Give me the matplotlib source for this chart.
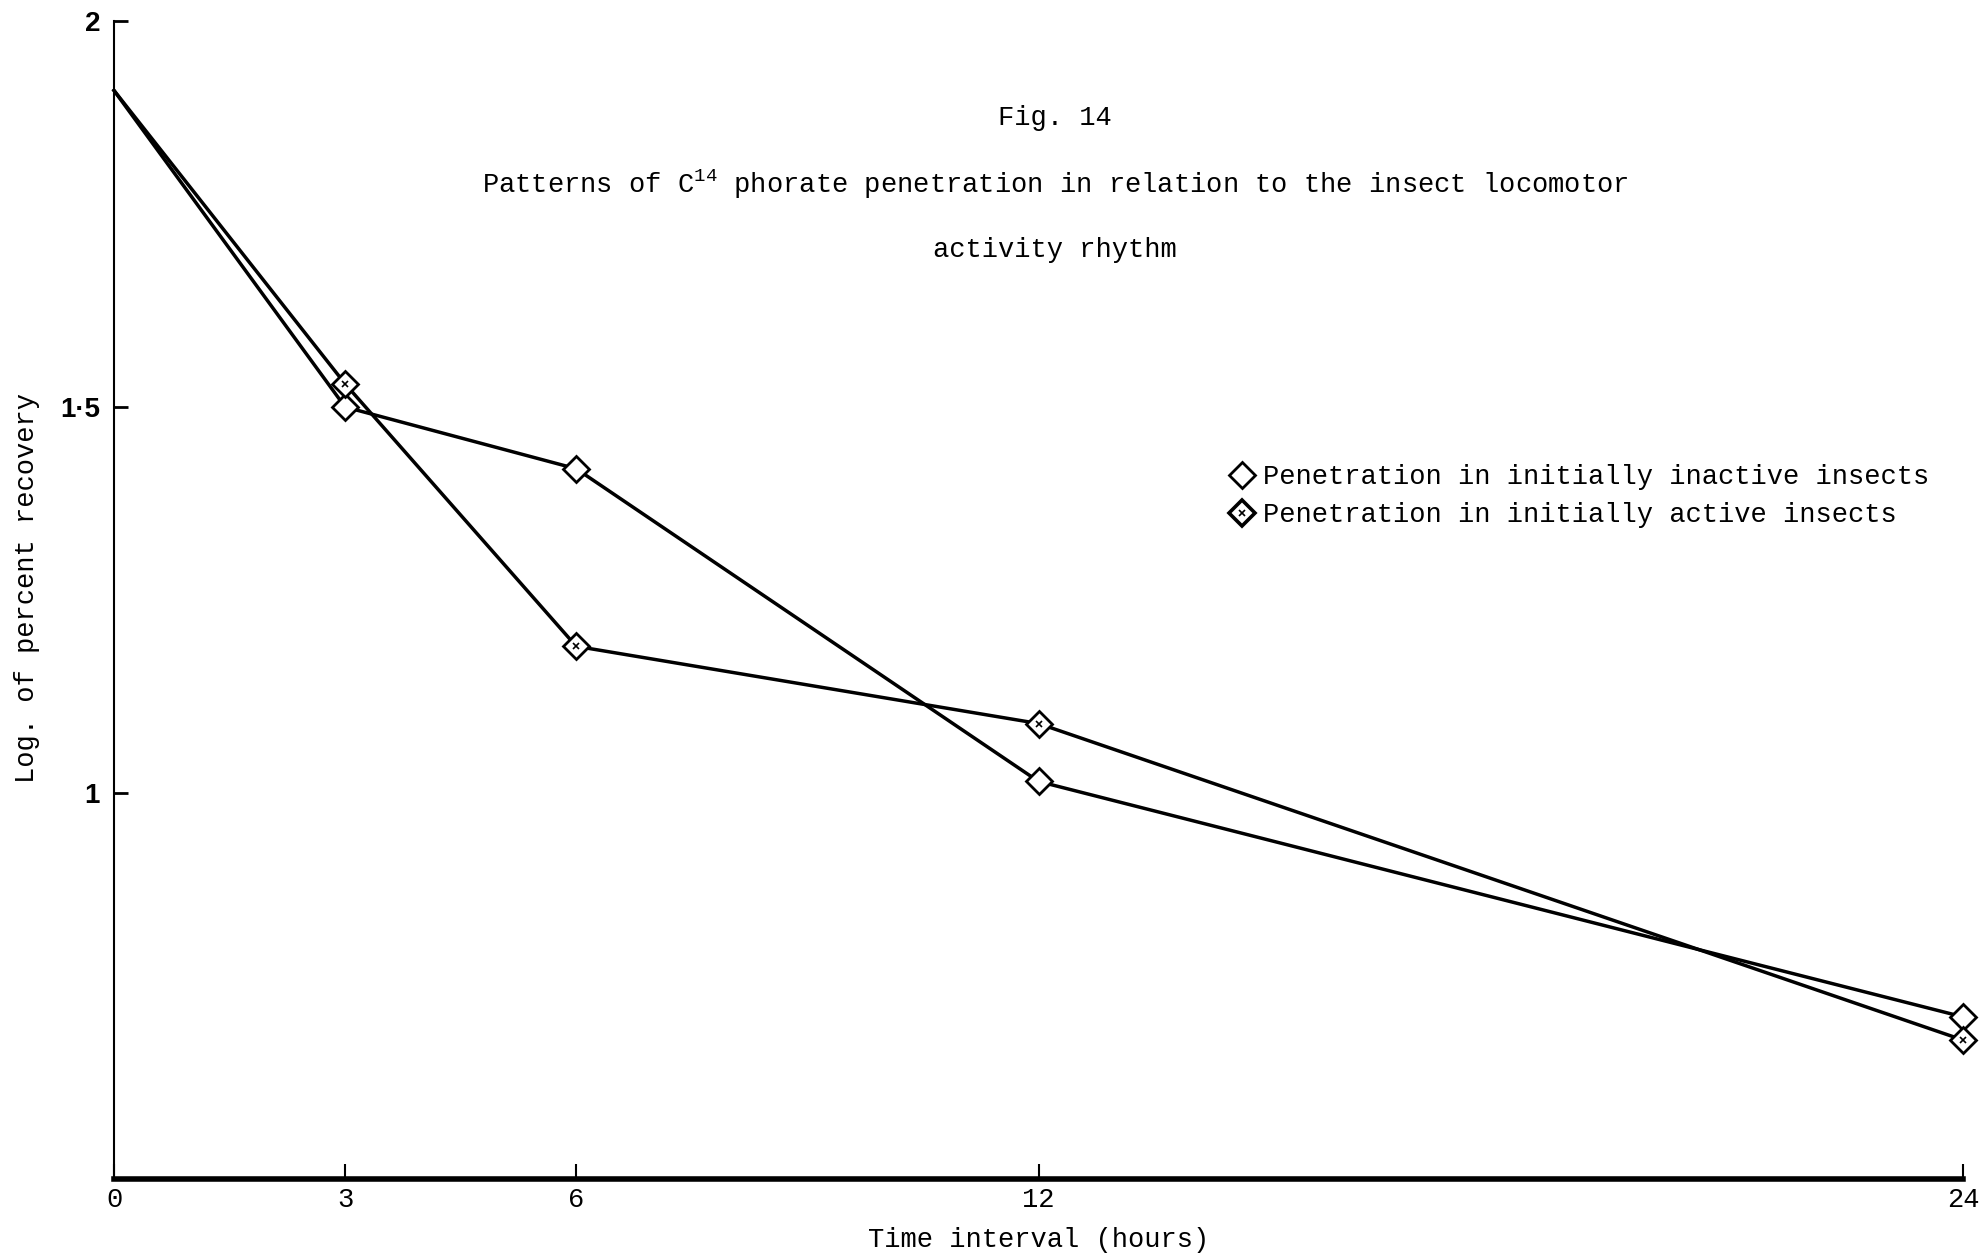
import matplotlib.pyplot as plt
from matplotlib.lines import Line2D

plt.rcParams['mathtext.fontset'] = 'custom'
plt.rcParams['mathtext.rm'] = 'Liberation Mono'
plt.rcParams['mathtext.it'] = 'Liberation Mono'

# hours after treatment
hours = [0, 3, 6, 12, 24]
# log of percent recovery
inactive = [1.91, 1.50, 1.42, 1.015, 0.71]
active = [1.91, 1.53, 1.19, 1.09, 0.68]

x_ticks = [0, 3, 6, 12, 24]
y_ticks = [1, 1.5, 2]
y_tick_labels = ['1', '1\u00b75', '2']

W, H = 1988, 1258
mono = 'Liberation Mono'
fs = 19.5

fig = plt.figure(figsize=(W / 100, H / 100), dpi=100)
ax = fig.add_axes([114 / W, 1 - 1179 / H, (1963 - 114) / W, (1179 - 21) / H])

diamond = dict(linestyle='none', marker='D', ms=13, mfc='white',
               mec='black', mew=2, zorder=3, clip_on=False)

# lines start at the common zero point, markers only from 3 h on
ax.plot(hours, inactive, color='black', lw=2.5, zorder=2, clip_on=False)
ax.plot(hours, active, color='black', lw=2.5, zorder=2, clip_on=False)
ax.plot(hours[1:], inactive[1:], **diamond)
ax.plot(hours[1:], active[1:], **diamond)
ax.plot(hours[1:], active[1:], linestyle='none', marker='x', ms=5,
        mec='black', mew=1.2, zorder=4, clip_on=False)

ax.set_xlim(0, 24)
ax.set_ylim(0.5, 2)
for s in ['top', 'right']:
    ax.spines[s].set_visible(False)
ax.spines['bottom'].set_linewidth(4)
ax.spines['left'].set_linewidth(1.5)

ax.set_xticks(x_ticks)
ax.set_xticklabels([str(t) for t in x_ticks], fontfamily=mono, fontsize=fs)
ax.set_yticks(y_ticks)
ax.set_yticklabels(y_tick_labels, fontfamily='Liberation Sans',
                   fontweight='bold', fontsize=20)
ax.tick_params(axis='x', direction='in', length=11, width=1.5, pad=6)
ax.tick_params(axis='y', direction='in', length=10, width=2, pad=10)
ax.patch.set_visible(False)

ax.set_xlabel('Time interval (hours)', fontfamily=mono, fontsize=fs, labelpad=10)
ax.set_ylabel('Log. of percent recovery', fontfamily=mono, fontsize=fs)
ax.yaxis.set_label_coords(-0.04, 0.51)

fig.text(1055 / W, 1 - 118 / H, 'Fig. 14', ha='center', va='center',
         fontfamily=mono, fontsize=fs)
fig.text(1055 / W, 1 - 184 / H,
         r'Patterns of C$^{14}$ phorate penetration in relation to the insect locomotor',
         ha='center', va='center', fontfamily=mono, fontsize=fs)
fig.text(1055 / W, 1 - 250 / H, 'activity rhythm', ha='center', va='center',
         fontfamily=mono, fontsize=fs)

h_inactive = Line2D([], [], linestyle='none', marker='D', ms=13,
                    mfc='white', mec='black', mew=2)
h_active = (Line2D([], [], linestyle='none', marker='D', ms=13,
                   mfc='white', mec='black', mew=2.6),
            Line2D([], [], linestyle='none', marker='x', ms=5,
                   mec='black', mew=1.2))
fig.legend([h_inactive, h_active],
           ['Penetration in initially inactive insects',
            'Penetration in initially active insects'],
           loc='upper left', bbox_to_anchor=(1228 / W, 1 - 464 / H),
           frameon=False, handlelength=1.0, handletextpad=0.3,
           labelspacing=0.45, borderaxespad=0, borderpad=0,
           prop={'family': mono, 'size': fs})

fig.savefig('out.png', dpi=100)
